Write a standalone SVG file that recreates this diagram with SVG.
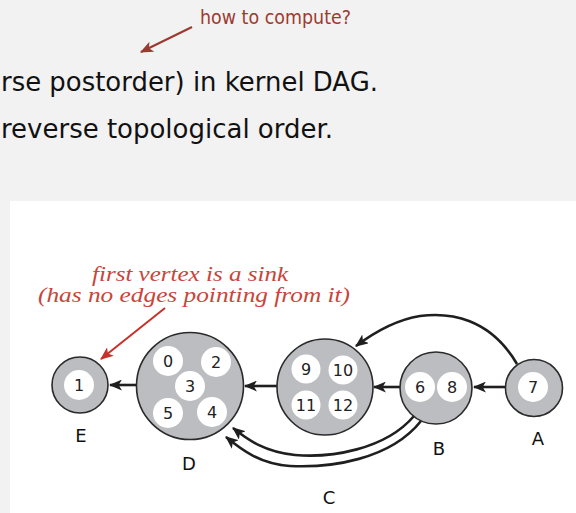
<svg xmlns="http://www.w3.org/2000/svg" width="576" height="513" viewBox="0 0 576 513">
<style>
.big{fill:#bcbdc0;stroke:#2a2a2a;stroke-width:1.6}
.in{fill:#ffffff}
.num{font-family:"DejaVu Sans",sans-serif;font-size:16px;fill:#222;text-anchor:middle;dominant-baseline:central}
.lab{font-family:"DejaVu Sans",sans-serif;font-size:18px;fill:#111;text-anchor:middle}
.edge{fill:none;stroke:#1f1f1f;stroke-width:2.6}
.top{font-family:"DejaVu Sans",sans-serif;font-size:26px;fill:#111}
.note{font-family:"Liberation Serif",serif;font-style:italic;font-size:20px;fill:#c8453a;text-anchor:middle}
</style>
<defs>
<marker id="ahk" viewBox="0 0 12 10" refX="11" refY="5" markerWidth="13" markerHeight="11" markerUnits="userSpaceOnUse" orient="auto">
<path d="M0,0 L12,5 L0,10 L3,5 z" fill="#1f1f1f"/>
</marker>
<marker id="ahr" viewBox="0 0 12 10" refX="11" refY="5" markerWidth="14" markerHeight="11" markerUnits="userSpaceOnUse" orient="auto">
<path d="M0,0 L12,5 L0,10 L3,5 z" fill="#c8302a"/>
</marker>
<marker id="ahb" viewBox="0 0 12 10" refX="11" refY="5" markerWidth="14" markerHeight="11" markerUnits="userSpaceOnUse" orient="auto">
<path d="M0,0 L12,5 L0,10 L3,5 z" fill="#9b3b30"/>
</marker>
</defs>
<rect x="0" y="0" width="576" height="513" fill="#f2f2f2"/>
<rect x="10" y="201" width="566" height="312" fill="#ffffff"/>

<g id="header">
<text class="top" x="1" y="91" textLength="377" lengthAdjust="spacingAndGlyphs">rse postorder) in kernel DAG.</text>
<text class="top" x="1" y="138" textLength="332" lengthAdjust="spacingAndGlyphs">reverse topological order.</text>
<text x="200" y="24" font-family="DejaVu Sans, sans-serif" font-size="19" fill="#9b3b30" textLength="151" lengthAdjust="spacingAndGlyphs">how to compute?</text>
<line x1="192" y1="27" x2="141" y2="52" stroke="#9b3b30" stroke-width="2.2" marker-end="url(#ahb)"/>
</g>

<g id="annotation">
<text class="note" x="190" y="281" textLength="196" lengthAdjust="spacingAndGlyphs">first vertex is a sink</text>
<text class="note" x="194" y="302" textLength="312" lengthAdjust="spacingAndGlyphs">(has no edges pointing from it)</text>
<line x1="165" y1="308" x2="101" y2="359" stroke="#c8302a" stroke-width="2" marker-end="url(#ahr)"/>
</g>

<g id="connectors">
<line class="edge" x1="505" y1="387" x2="474" y2="387" marker-end="url(#ahk)"/>
<line class="edge" x1="400" y1="387" x2="374" y2="387" marker-end="url(#ahk)"/>
<line class="edge" x1="277" y1="386" x2="245" y2="386" marker-end="url(#ahk)"/>
<line class="edge" x1="137" y1="385" x2="110" y2="385" marker-end="url(#ahk)"/>
<path class="edge" d="M517,364 C490,318 450,312 420,316 C395,320 372,334 356,346" marker-end="url(#ahk)"/>
<path class="edge" d="M414,416 C385,450 330,458 295,455 C265,452 248,440 233,428" marker-end="url(#ahk)"/>
<path class="edge" d="M421,421 C390,460 330,468 290,466 C260,464 242,450 226,437" marker-end="url(#ahk)"/>
</g>

<g id="E">
<circle class="big" cx="80" cy="385" r="28"/>
<circle class="in" cx="79" cy="385" r="15"/>
<text class="num" x="79" y="385">1</text>
<text class="lab" x="81" y="442">E</text>
</g>

<g id="D">
<circle class="big" cx="190" cy="386" r="53.5"/>
<circle class="in" cx="168" cy="361" r="15"/>
<circle class="in" cx="216" cy="362" r="15"/>
<circle class="in" cx="190" cy="386" r="15"/>
<circle class="in" cx="168" cy="413" r="15"/>
<circle class="in" cx="212" cy="412" r="15"/>
<text class="num" x="168" y="361">0</text>
<text class="num" x="216" y="362">2</text>
<text class="num" x="190" y="386">3</text>
<text class="num" x="168" y="413">5</text>
<text class="num" x="212" y="412">4</text>
<text class="lab" x="189" y="470">D</text>
</g>

<g id="C">
<circle class="big" cx="325" cy="387" r="48"/>
<circle class="in" cx="306" cy="369" r="14.5"/>
<circle class="in" cx="343" cy="370" r="14.5"/>
<circle class="in" cx="306" cy="405" r="14.5"/>
<circle class="in" cx="343" cy="405" r="14.5"/>
<text class="num" x="306" y="369">9</text>
<text class="num" x="343" y="370">10</text>
<text class="num" x="306" y="405">11</text>
<text class="num" x="343" y="405">12</text>
<text class="lab" x="329" y="504">C</text>
</g>

<g id="B">
<circle class="big" cx="436" cy="388" r="36"/>
<circle class="in" cx="420" cy="387" r="15"/>
<circle class="in" cx="452" cy="387" r="15"/>
<text class="num" x="420" y="387">6</text>
<text class="num" x="452" y="387">8</text>
<text class="lab" x="439" y="455">B</text>
</g>

<g id="A">
<circle class="big" cx="534" cy="388" r="28.5"/>
<circle class="in" cx="533" cy="387" r="15"/>
<text class="num" x="533" y="387">7</text>
<text class="lab" x="538" y="445">A</text>
</g>
</svg>
